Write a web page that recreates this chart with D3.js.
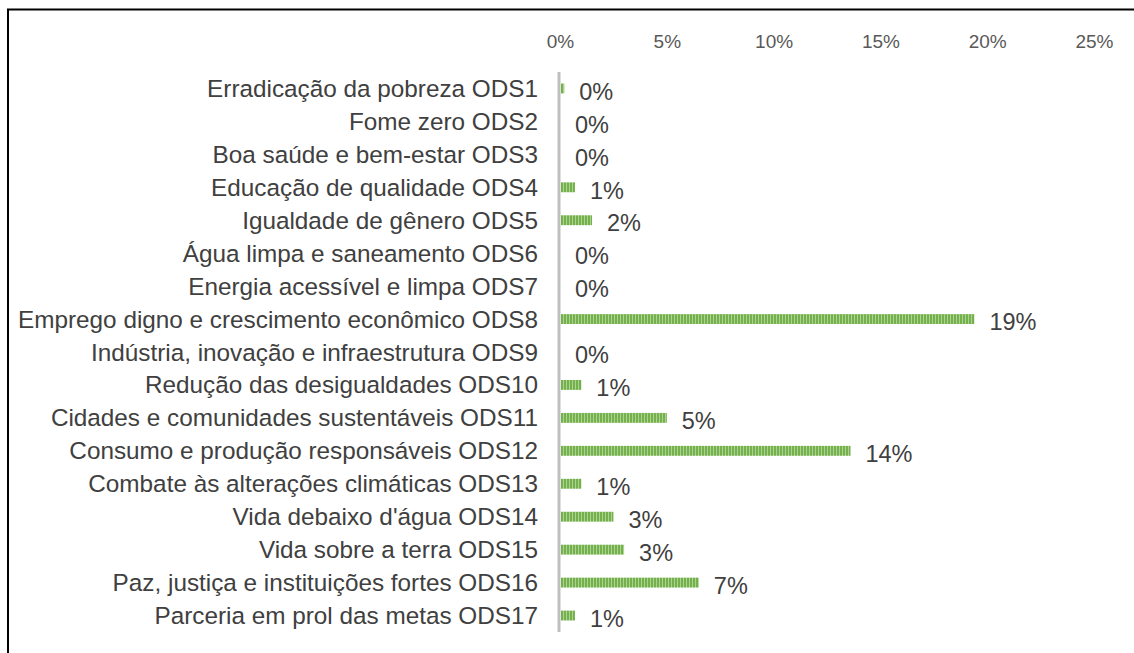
<!DOCTYPE html>
<meta charset="utf-8">
<style>
    body { margin: 0; background: #fff; }
    .cat text { font-family: "Liberation Sans", Arial, sans-serif; font-size: 24.3px; fill: #404040; }
    .val text { font-family: "Liberation Sans", Arial, sans-serif; font-size: 23.5px; fill: #404040; }
    .tick text { font-family: "Liberation Sans", Arial, sans-serif; font-size: 19px; fill: #595959; }
</style>
<svg width="1134" height="653"></svg>
<script src="https://d3js.org/d3.v7.min.js"></script>
<script>
    var categories = [
        "Erradicação da pobreza ODS1",
        "Fome zero ODS2",
        "Boa saúde e bem-estar ODS3",
        "Educação de qualidade ODS4",
        "Igualdade de gênero ODS5",
        "Água limpa e saneamento ODS6",
        "Energia acessível e limpa ODS7",
        "Emprego digno e crescimento econômico ODS8",
        "Indústria, inovação e infraestrutura ODS9",
        "Redução das desigualdades ODS10",
        "Cidades e comunidades sustentáveis ODS11",
        "Consumo e produção responsáveis ODS12",
        "Combate às alterações climáticas ODS13",
        "Vida debaixo d'água ODS14",
        "Vida sobre a terra ODS15",
        "Paz, justiça e instituições fortes ODS16",
        "Parceria em prol das metas ODS17"
    ];
    // share of each goal, in percent
    var values = [0.2, 0, 0, 0.7, 1.5, 0, 0, 19.4, 0, 1.0, 5.0, 13.6, 1.0, 2.5, 3.0, 6.5, 0.7];
    var ticks = [0, 5, 10, 15, 20, 25];

    var svg = d3.select("svg");

    // frame (only top and left edges are visible)
    svg.append("path")
        .attr("d", "M8,653 L8,9.5 L1134,9.5")
        .attr("fill", "none")
        .attr("stroke", "#000")
        .attr("stroke-width", 2);

    var defs = svg.append("defs");
    var pat = defs.append("pattern")
        .attr("id", "stripes")
        .attr("patternUnits", "userSpaceOnUse")
        .attr("width", 3).attr("height", 10);
    pat.append("rect").attr("width", 3).attr("height", 10).attr("fill", "#74b04b");
    pat.append("rect").attr("x", 2).attr("width", 1).attr("height", 10).attr("fill", "#acd392");

    var x = d3.scaleLinear().domain([0, 25]).range([560, 1094]);
    var y = d3.scaleBand().domain(categories).range([72, 632]).paddingInner(0.7).paddingOuter(0.35);

    // top axis tick labels, no line
    var ax = svg.append("g")
        .attr("transform", "translate(0,48)")
        .call(d3.axisTop(x).tickValues(ticks).tickSize(0).tickPadding(0).tickFormat(function(d) { return d + "%"; }));
    ax.select(".domain").remove();

    // bars
    svg.append("g")
        .selectAll("rect")
        .data(values)
        .enter().append("rect")
        .attr("x", x(0) + 1)
        .attr("y", function(d, i) { return y(categories[i]); })
        .attr("width", function(d) { return Math.max(0, x(d) - x(0) - 1); })
        .attr("height", y.bandwidth())
        .attr("fill", "url(#stripes)");

    // vertical category axis
    svg.append("line")
        .attr("x1", x(0) - 1).attr("x2", x(0) - 1)
        .attr("y1", 72).attr("y2", 632)
        .attr("stroke", "#bfbfbf")
        .attr("stroke-width", 3);

    // category labels
    svg.append("g").attr("class", "cat")
        .selectAll("text")
        .data(categories)
        .enter().append("text")
        .attr("x", 538)
        .attr("y", function(d) { return y(d) + y.bandwidth() / 2; })
        .attr("dy", "0.35em")
        .attr("text-anchor", "end")
        .text(function(d) { return d; });

    // value labels
    svg.append("g").attr("class", "val")
        .selectAll("text")
        .data(values)
        .enter().append("text")
        .attr("x", function(d) { return x(d) + 15; })
        .attr("y", function(d, i) { return y(categories[i]) + y.bandwidth() / 2 + 3; })
        .attr("dy", "0.35em")
        .text(function(d) { return Math.round(d) + "%"; });
</script>
